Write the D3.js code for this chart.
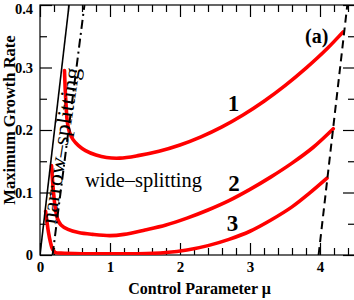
<!DOCTYPE html>
<html><head><meta charset="utf-8">
<script src="https://cdn.jsdelivr.net/npm/d3@7"></script>
<style>html,body{margin:0;padding:0;background:#fff;}svg{display:block;}</style>
</head><body>
<svg id="chart" width="354" height="300"></svg>
<script>
// ---- data ----
const xMajorTicks = [0, 1, 2, 3, 4];
const xTickLabels = ["0", "1", "2", "3", "4"];
const yMajorTicks = [0, 0.1, 0.2, 0.3, 0.4];
const yTickLabels = ["0", "0.1", "0.2", "0.3", "0.4"];
const xLabel = "Control Parameter \u03bc";
const yLabel = "Maximum Growth Rate";

const curve1Mu   = [0.35,0.36,0.375,0.39,0.42,0.47,0.55,0.65,0.8,0.95,1.14,1.4,1.7,2.0,2.3,2.6,2.9,3.2,3.5,3.8,4.1,4.33];
const curve1Rate = [0.295,0.265,0.235,0.213,0.197,0.185,0.175,0.167,0.16,0.156,0.155,0.159,0.166,0.176,0.189,0.205,0.224,0.246,0.271,0.299,0.33,0.357];
const curve2Mu   = [0.165,0.18,0.2,0.22,0.25,0.3,0.4,0.55,0.75,1.0,1.2,1.5,1.8,2.1,2.4,2.7,3.0,3.3,3.6,3.9,4.19];
const curve2Rate = [0.143,0.118,0.092,0.074,0.058,0.048,0.041,0.036,0.033,0.031,0.033,0.04,0.048,0.059,0.072,0.087,0.105,0.125,0.147,0.172,0.202];
const curve3Mu   = [0.08,0.1,0.12,0.15,0.18,0.22,0.3,0.6,1.0,1.4,1.8,2.1,2.4,2.7,3.0,3.3,3.6,3.85,4.1];
const curve3Rate = [0.07,0.053,0.037,0.02,0.009,0.004,0.003,0.002,0.002,0.002,0.004,0.008,0.015,0.025,0.038,0.056,0.077,0.099,0.123];
const curveNames = ["1", "2", "3"];

const solidBoundaryMu   = [0, 0.415];
const solidBoundaryRate = [0, 0.4];
const dashDotBoundaryMu   = [0.18, 0.635];
const dashDotBoundaryRate = [0, 0.4];
const dashedBoundaryMu   = [3.98, 4.39];
const dashedBoundaryRate = [0, 0.4];

// ---- chart ----
const svg = d3.select("#chart");
const serif = "'Liberation Serif','Times New Roman',serif";
const x = d3.scaleLinear().domain([0, 4.5]).range([40, 355]);
const y = d3.scaleLinear().domain([0, 0.4]).range([255, 5]);
const xMinor = d3.range(0, 4.51, 0.2).filter(v => Math.abs(v - Math.round(v)) > 1e-6);
const yMinor = [0.05, 0.15, 0.25, 0.35];

svg.append("clipPath").attr("id", "clip").append("rect")
  .attr("x", 40).attr("y", 5).attr("width", 315).attr("height", 250);

function styleAxis(g, size) {
  g.select(".domain").remove();
  g.selectAll("line").attr("stroke", "#000").attr("stroke-width", 1.2);
  g.selectAll("text").attr("font-family", serif).attr("font-weight", "bold")
    .attr("font-size", size || 15).attr("fill", "#000");
}
// bottom
svg.append("g").attr("transform", "translate(0,255)")
  .call(d3.axisBottom(x).tickValues(xMajorTicks).tickSize(-12).tickPadding(6)
    .tickFormat((d, i) => xTickLabels[i])).call(styleAxis);
svg.append("g").attr("transform", "translate(0,255)")
  .call(d3.axisBottom(x).tickValues(xMinor).tickSize(-7).tickFormat("")).call(styleAxis);
// top
svg.append("g").attr("transform", "translate(0,5)")
  .call(d3.axisTop(x).tickValues(xMajorTicks).tickSize(-12).tickFormat("")).call(styleAxis);
svg.append("g").attr("transform", "translate(0,5)")
  .call(d3.axisTop(x).tickValues(xMinor).tickSize(-7).tickFormat("")).call(styleAxis);
// left
const yAxisG = svg.append("g").attr("transform", "translate(40,0)")
  .call(d3.axisLeft(y).tickValues(yMajorTicks).tickSize(-12).tickPadding(7)
    .tickFormat((d, i) => yTickLabels[i])).call(g => styleAxis(g, 14.5));
// keep the top label inside the picture
yAxisG.selectAll(".tick text").filter(d => d === 0.4).attr("dy", "0.57em");
svg.append("g").attr("transform", "translate(40,0)")
  .call(d3.axisLeft(y).tickValues(yMinor).tickSize(-7).tickFormat("")).call(styleAxis);
// right
svg.append("g").attr("transform", "translate(355,0)")
  .call(d3.axisRight(y).tickValues(yMajorTicks).tickSize(-12).tickFormat("")).call(styleAxis);
svg.append("g").attr("transform", "translate(355,0)")
  .call(d3.axisRight(y).tickValues(yMinor).tickSize(-7).tickFormat("")).call(styleAxis);

// frame
svg.append("rect").attr("x", x(0)).attr("y", y(0.4))
  .attr("width", x(4.5) - x(0)).attr("height", y(0) - y(0.4))
  .attr("fill", "none").attr("stroke", "#000").attr("stroke-width", 1.2);

// curves
const line = d3.line().x(d => x(d[0])).y(d => y(d[1])).curve(d3.curveCatmullRom.alpha(0.5));
const curves = [[curve1Mu, curve1Rate], [curve2Mu, curve2Rate], [curve3Mu, curve3Rate]];
const plot = svg.append("g").attr("clip-path", "url(#clip)");
curves.forEach(([mu, rate]) => {
  plot.append("path").datum(mu.map((m, i) => [m, rate[i]]))
    .attr("d", line).attr("fill", "none").attr("stroke", "#ff0000")
    .attr("stroke-width", 3.6).attr("stroke-linecap", "round").attr("stroke-linejoin", "round");
});

// boundaries
const straight = d3.line().x(d => x(d[0])).y(d => y(d[1]));
const bounds = [
  [solidBoundaryMu, solidBoundaryRate, null, 1.6],
  [dashDotBoundaryMu, dashDotBoundaryRate, "9,4,2,4", 2],
  [dashedBoundaryMu, dashedBoundaryRate, "8,5", 2]
];
bounds.forEach(([mu, rate, dash, w]) => {
  plot.append("path").datum(mu.map((m, i) => [m, rate[i]]))
    .attr("d", straight).attr("fill", "none").attr("stroke", "#000")
    .attr("stroke-width", w).attr("stroke-dasharray", dash);
});

// curve numbers
const labelPos = [[233.5, 110.5], [234, 190.5], [232.5, 231]];
curveNames.forEach((n, i) => {
  svg.append("text").attr("x", labelPos[i][0]).attr("y", labelPos[i][1])
    .attr("text-anchor", "middle").attr("font-family", serif).attr("font-weight", "bold")
    .attr("font-size", 23).text(n);
});

// annotations
svg.append("text").attr("x", 305).attr("y", 42.5).attr("font-family", serif)
  .attr("font-weight", "bold").attr("font-size", 20).text("(a)");
svg.append("text").attr("x", 85).attr("y", 187).attr("font-family", serif)
  .attr("font-size", 21).attr("textLength", 117).attr("lengthAdjust", "spacingAndGlyphs")
  .text("wide\u2013splitting");
svg.append("text").attr("transform", "translate(62.5,146) rotate(-81)")
  .attr("text-anchor", "middle").attr("dy", "0.23em").attr("font-family", serif)
  .attr("font-size", 22).attr("textLength", 158).attr("lengthAdjust", "spacingAndGlyphs")
  .text("narrow\u2013splitting");

// axis titles
svg.append("text").attr("x", 199.5).attr("y", 294).attr("text-anchor", "middle")
  .attr("font-family", serif).attr("font-weight", "bold").attr("font-size", 16).text(xLabel);
svg.append("text").attr("transform", "translate(14.8,120) rotate(-90)")
  .attr("text-anchor", "middle").attr("font-family", serif).attr("font-weight", "bold")
  .attr("font-size", 16.5).text(yLabel);
</script>
</body></html>
